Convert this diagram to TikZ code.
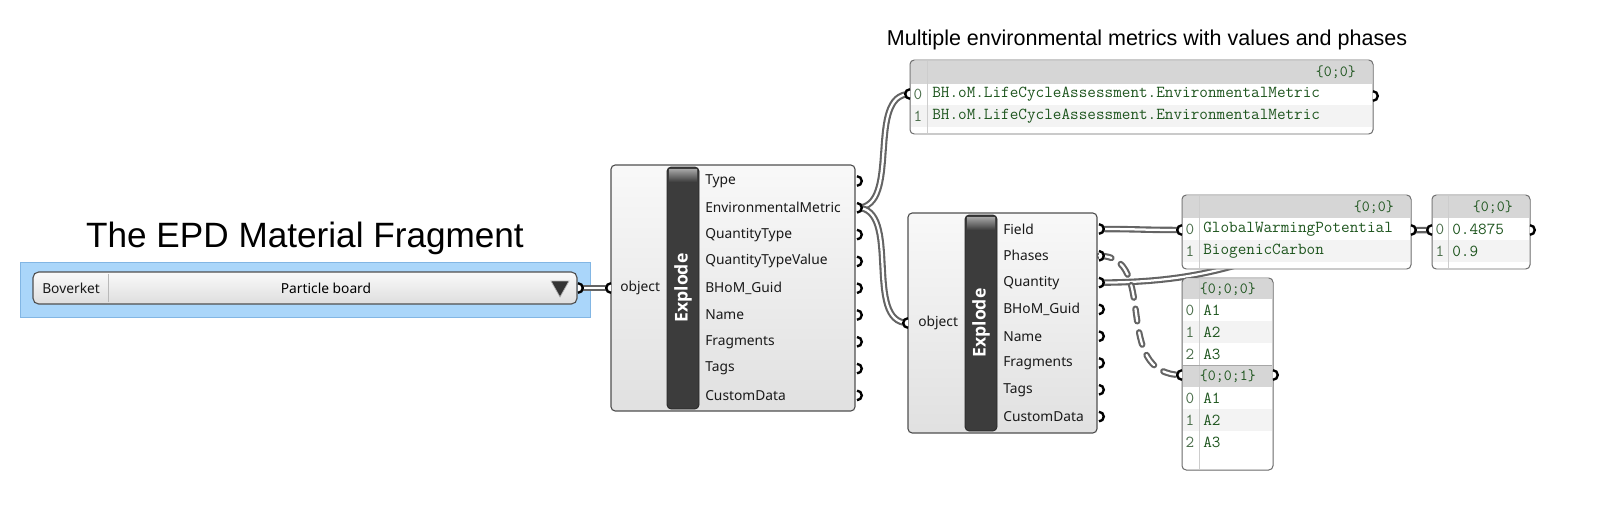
\documentclass[tikz,border=0pt]{standalone}
\usepackage{fontspec}
\setmainfont{Noto Sans}
\newfontfamily\headfont{Liberation Sans}
\newfontfamily\barfont{Open Sans}
\usetikzlibrary{calc, positioning, backgrounds}

\definecolor{canvasblue}{RGB}{170,214,250}
\definecolor{canvasedge}{RGB}{130,182,228}
\definecolor{compedge}{RGB}{80,80,80}
\definecolor{barfill}{RGB}{60,60,60}
\definecolor{wiregray}{RGB}{100,100,100}
\definecolor{panelhead}{RGB}{214,214,214}
\definecolor{panelrow}{RGB}{243,243,243}
\definecolor{paneledge}{RGB}{105,105,105}
\definecolor{panelsepc}{RGB}{205,205,205}
\definecolor{paneltext}{RGB}{30,85,30}
\definecolor{panelidx}{RGB}{75,110,75}

\tikzset{
    comp/.style={draw=compedge, line width=0.8pt, rounded corners=3pt, top color=gray!5, bottom color=gray!24},
    bar/.style={draw=black!85, line width=0.6pt, rounded corners=3pt, fill=barfill},
    panelbox/.style={draw=paneledge, line width=0.7pt, rounded corners=3pt},
    panelsep/.style={draw=panelsepc, line width=0.6pt},
    wire/.style={draw=wiregray, line width=1.5pt, double=white, double distance=1.6pt},
    dashwire/.style={wire, dash pattern=on 9pt off 8pt, line cap=round},
    jack/.style={draw=black, line width=1.7pt, fill=white},
    complabel/.style={font=\fontsize{9.8}{12}\selectfont, text=black!90, inner sep=0pt, anchor=west},
    explode/.style={font=\barfont\fontsize{12.5}{14}\selectfont\bfseries, text=white, rotate=90, inner sep=0pt},
    celltxt/.style={font=\fontsize{11.9}{14}\selectfont\ttfamily, text=paneltext, inner sep=0pt, anchor=west},
    idx/.style={font=\fontsize{11.9}{14}\selectfont\ttfamily, text=panelidx, inner sep=0pt},
    headtxt/.style={font=\fontsize{11}{14}\selectfont\ttfamily, text=paneltext, inner sep=0pt, anchor=east},
}

\begin{document}
\begin{tikzpicture}[x=0.025cm, y=-0.025cm]
    \useasboundingbox (0,0) rectangle (1620,508);

    % titles
    \node [font=\headfont\fontsize{25}{30}\selectfont] (Tmat) at (305,238) {The EPD Material Fragment};
    \node [font=\headfont\fontsize{15.3}{18}\selectfont] (Tmet) at (1147,40) {Multiple environmental metrics with values and phases};

    % value list
    \draw [fill=canvasblue, draw=canvasedge, line width=0.5pt] (20,262) rectangle (590,317);
    \draw [draw=compedge, line width=0.8pt, rounded corners=4pt, top color=gray!4, bottom color=gray!26] (33,272) rectangle (577,304);
    \draw [draw=gray!55, line width=0.6pt] (108,274) -- (108,302);
    \node [complabel] (Dkey) at (42,288) {Boverket};
    \node [font=\fontsize{9.8}{12}\selectfont, inner sep=0pt] (Dval) at (326,288) {Particle board};
    \draw [fill=black!80, draw=gray!60, line width=0.5pt] (551,281) -- (569,281) -- (560,297) -- cycle;
    \coordinate (Dout) at (578,288);

    % ports
    \coordinate (C1in) at (611,288);
    \coordinate (C2in) at (908,323);
    \foreach \i in {0,...,8} \coordinate (C1o\i) at (857,{181+26.8*\i});
    \foreach \i in {0,...,7} \coordinate (C2o\i) at (1099,{229+26.8*\i});
    \coordinate (P1in) at (910,94);
    \coordinate (P1out) at (1373,96);
    \coordinate (P2in) at (1182,230);
    \coordinate (P2out) at (1411,230);
    \coordinate (P3in) at (1432,230);
    \coordinate (P3out) at (1530,230);
    \coordinate (P4in) at (1182,375);
    \coordinate (P4out) at (1273,375);

    % wires
    \draw [wire] (Dout) -- (C1in);
    \draw [wire] (C1o1) .. controls +(45,0) and +(-45,0) .. (P1in);
    \draw [wire] (C1o1) .. controls +(45,0) and +(-45,0) .. (C2in);
    \draw [wire] (C2o0) .. controls +(40,0) and +(-40,0) .. (P2in);
    \draw [wire] (C2o2) .. controls +(166,0) and +(-166,0) .. (P3in);
    \draw [wire] (P2out) -- (P3in);
    \draw [dashwire] (C2o1) .. controls +(61,0) and +(-72,0) .. (P4in);

    % explode 1
    \draw [comp] (611,165) rectangle (855,411);
    \draw [bar] (667,167) rectangle (699,409);
    \shade [top color=gray!70, bottom color=barfill] (669,169) rectangle (697,182);
    \node [explode] (C1name) at (683,288) {Explode};
    \node [complabel] (C1obj) at (620,288) {object};
    \foreach \lbl [count=\i from 0] in {Type, EnvironmentalMetric, QuantityType, QuantityTypeValue, BHoM\_Guid, Name, Fragments, Tags, CustomData}
        \node [complabel] (C1l\i) at (705,{181+26.8*\i}) {\lbl};

    % explode 2
    \draw [comp] (908,213) rectangle (1097,433);
    \draw [bar] (965,215) rectangle (997,431);
    \shade [top color=gray!70, bottom color=barfill] (967,217) rectangle (995,230);
    \node [explode] (C2name) at (981,323) {Explode};
    \node [complabel] (C2obj) at (918,323) {object};
    \foreach \lbl [count=\i from 0] in {Field, Phases, Quantity, BHoM\_Guid, Name, Fragments, Tags, CustomData}
        \node [complabel] (C2l\i) at (1003,{229+26.8*\i}) {\lbl};

    % metrics panel
    \fill [white, rounded corners=3pt] (910,60) rectangle (1373,134);
    \fill [panelhead] (911,61) rectangle (1372,84);
    \fill [panelrow] (911,105) rectangle (1372,127);
    \draw [panelsep] (927,61) -- (927,133);
    \draw [panelbox] (910,60) rectangle (1373,134);
    \node [headtxt] (P1h) at (1356,72) {\{0;0\}};
    \foreach \i in {0,1} {
        \node [idx] (P1i\i) at (918,{94+22*\i}) {\i};
        \node [celltxt] (P1t\i) at (932,{94+22*\i}) {BH.oM.LifeCycleAssessment.EnvironmentalMetric};
    }

    % field panel
    \fill [white, rounded corners=3pt] (1182,195) rectangle (1411,269);
    \fill [panelhead] (1183,196) rectangle (1410,218);
    \fill [panelrow] (1183,240) rectangle (1410,262);
    \draw [panelsep] (1199,196) -- (1199,268);
    \draw [panelbox] (1182,195) rectangle (1411,269);
    \node [headtxt] (P2h) at (1394,207) {\{0;0\}};
    \foreach \txt [count=\i from 0] in {GlobalWarmingPotential, BiogenicCarbon} {
        \node [idx] (P2i\i) at (1190,{229+22*\i}) {\i};
        \node [celltxt] (P2t\i) at (1203,{229+22*\i}) {\txt};
    }

    % quantity panel
    \fill [white, rounded corners=3pt] (1432,195) rectangle (1530,269);
    \fill [panelhead] (1433,196) rectangle (1529,218);
    \fill [panelrow] (1433,240) rectangle (1529,262);
    \draw [panelsep] (1448,196) -- (1448,268);
    \draw [panelbox] (1432,195) rectangle (1530,269);
    \node [headtxt] (P3h) at (1513,207) {\{0;0\}};
    \foreach \txt [count=\i from 0] in {0.4875, 0.9} {
        \node [idx] (P3i\i) at (1440,{229+22*\i}) {\i};
        \node [celltxt] (P3t\i) at (1452,{229+22*\i}) {\txt};
    }

    % phases panel
    \fill [white, rounded corners=3pt] (1182,278) rectangle (1273,470);
    \fill [panelhead] (1183,279) rectangle (1272,299);
    \fill [panelrow] (1183,321) rectangle (1272,343);
    \fill [panelhead] (1183,365) rectangle (1272,387);
    \fill [panelrow] (1183,409) rectangle (1272,431);
    \draw [panelsep] (1199,279) -- (1199,469);
    \draw [draw=gray!70, line width=0.6pt] (1183,365) -- (1272,365);
    \draw [panelbox] (1182,278) rectangle (1273,470);
    \node [headtxt] (P4h0) at (1256,289) {\{0;0;0\}};
    \node [headtxt] (P4h1) at (1256,376) {\{0;0;1\}};
    \foreach \txt [count=\i from 0] in {A1, A2, A3} {
        \node [idx] (P4a\i) at (1190,{310+22*\i}) {\i};
        \node [celltxt] (P4s\i) at (1203,{310+22*\i}) {\txt};
        \node [idx] (P4b\i) at (1190,{398+22*\i}) {\i};
        \node [celltxt] (P4u\i) at (1203,{398+22*\i}) {\txt};
    }

    % jacks
    \foreach \p in {Dout, C1o0, C1o1, C1o2, C1o3, C1o4, C1o5, C1o6, C1o7, C1o8, C2o0, C2o1, C2o2, C2o3, C2o4, C2o5, C2o6, C2o7, P1out, P2out, P3out, P4out}
        \draw [jack] ([yshift=3.4pt]\p) arc [start angle=90, end angle=-90, radius=3.4pt];
    \foreach \p in {C1in, C2in, P1in, P2in, P3in, P4in}
        \draw [jack] ([yshift=3.4pt]\p) arc [start angle=90, end angle=270, radius=3.4pt];
\end{tikzpicture}
\end{document}
